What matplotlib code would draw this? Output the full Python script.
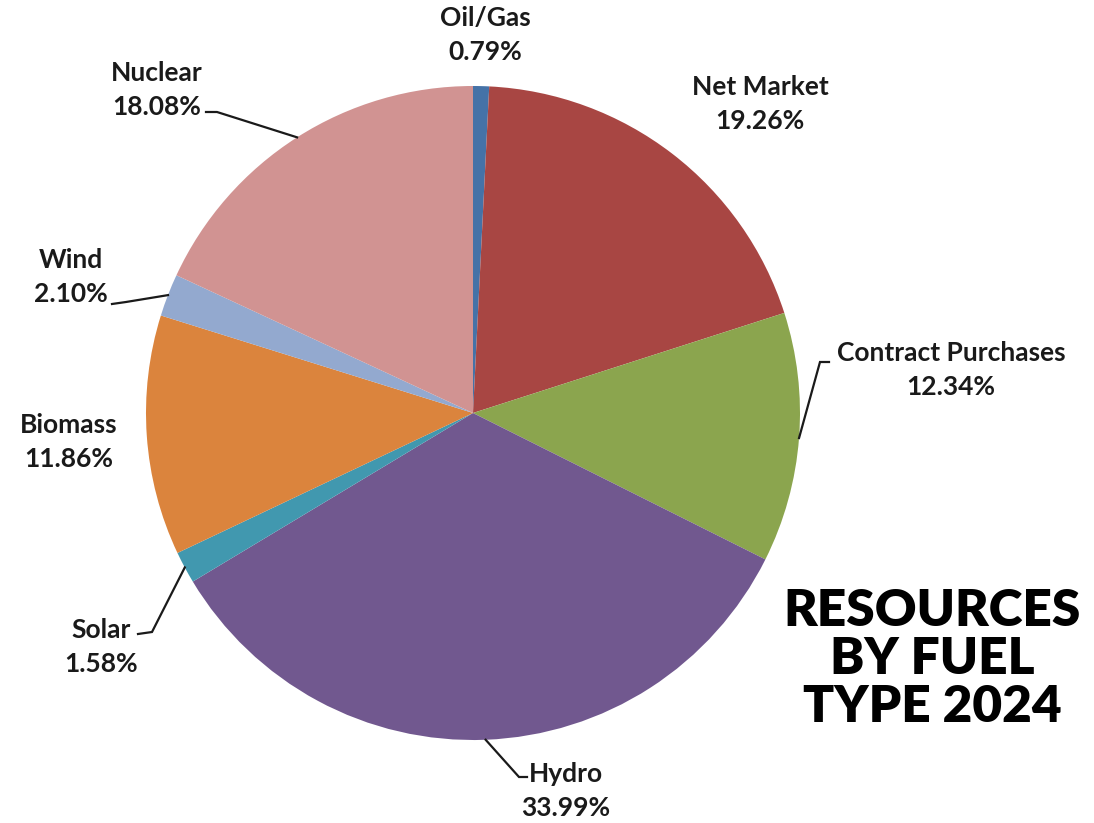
import numpy as np
import matplotlib.pyplot as plt

# fuel mix shares (%), clockwise from 12 o'clock
fuels = ['Oil/Gas', 'Net Market', 'Contract Purchases', 'Hydro',
         'Solar', 'Biomass', 'Wind', 'Nuclear']
shares = [0.79, 19.26, 12.34, 33.99, 1.58, 11.86, 2.10, 18.08]
colors = ['#4572a7', '#a84643', '#8ba54e', '#71588f',
          '#4198af', '#db843d', '#93a9cf', '#d19392']

W, H = 1094, 823
cx, cy, r = 473, 413, 327   # pie geometry in pixels (y from top)

fig = plt.figure(figsize=(W / 100, H / 100), dpi=100)
ax = fig.add_axes([0, 0, 1, 1])

ax.pie(shares, colors=colors, startangle=90, counterclock=False,
       center=(cx, H - cy), radius=r, wedgeprops=dict(linewidth=0))

# pie() resets the limits, so set them afterwards
ax.set_xlim(0, W)
ax.set_ylim(0, H)
ax.set_aspect('equal')
ax.axis('off')

# label block positions (centre of two-line text, pixels from top)
label_pos = {
    'Oil/Gas': (485, 35),
    'Net Market': (760, 104),
    'Contract Purchases': (951, 370),
    'Hydro': (566, 791),
    'Solar': (101, 647),
    'Biomass': (69, 442),
    'Wind': (71, 277),
    'Nuclear': (157, 90),
}
# leader line bends (pixels from top)
leaders = {
    'Contract Purchases': [(820, 362), (829, 362)],
    'Hydro': [(519, 777), (527, 777)],
    'Solar': [(152, 632), (138, 634)],
    'Wind': [(126, 302), (112, 304)],
    'Nuclear': [(217, 112), (206, 112)],
}

txt = dict(fontfamily='Lato', fontweight='bold', fontsize=19,
           color='#1a1a1a', ha='center', va='center', linespacing=1.5)

cum = np.cumsum([0] + shares)
for i, name in enumerate(fuels):
    x, y = label_pos[name]
    ax.text(x, H - y, '%s\n%.2f%%' % (name, shares[i]), **txt)
    if name in leaders:
        mid = np.deg2rad((cum[i] + shares[i] / 2) / 100 * 360)
        ex = cx + r * np.sin(mid)
        ey = cy - r * np.cos(mid)
        pts = [(ex, ey)] + leaders[name]
        ax.plot([p[0] for p in pts], [H - p[1] for p in pts],
                color='#1a1a1a', lw=1.6, solid_joinstyle='miter')

ax.text(932, H - 659, 'RESOURCES\nBY FUEL\nTYPE 2024', fontfamily='Lato',
        fontweight='heavy', fontsize=37, ha='center', va='center',
        color='black', linespacing=1.05)

fig.savefig('out.png', dpi=100)
